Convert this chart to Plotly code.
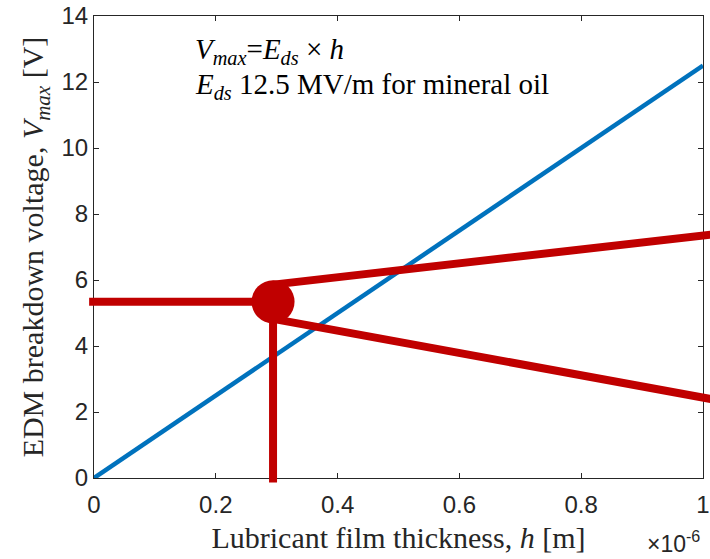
import plotly.graph_objects as go

# Breakdown line V_max = E_ds * h for mineral oil (E_ds = 12.5 MV/m)
h_line = [0.0, 1.0e-6]          # film thickness [m]
v_line = [0.0, 12.5]            # breakdown voltage [V]

# Operating point and the two diverging rays drawn from it
h_op = [0.294e-6]
v_op = [5.34]
ray_h = [0.294e-6, 1.02e-6]
ray_up_v = [5.86, 7.39]
ray_down_v = [4.82, 2.37]
# guide lines back to the axes
guide_h_start = -0.008e-6
guide_v_start = -0.14

x_ticks = [0, 0.2e-6, 0.4e-6, 0.6e-6, 0.8e-6, 1.0e-6]
x_tick_text = ["0", "0.2", "0.4", "0.6", "0.8", "1"]
y_ticks = [0, 2, 4, 6, 8, 10, 12, 14]

X_RANGE = [0, 1.0e-6]
Y_RANGE = [0, 14]

BLUE = "#0072BD"
RED = "#C00000"
AXC = "#262626"
SANS = "Liberation Sans, Arial, sans-serif"
SERIF = "Liberation Serif, Times New Roman, serif"


def px(h):
    return (h - X_RANGE[0]) / (X_RANGE[1] - X_RANGE[0])


def py(v):
    return (v - Y_RANGE[0]) / (Y_RANGE[1] - Y_RANGE[0])


fig = go.Figure()
fig.add_trace(go.Scatter(x=h_line, y=v_line, mode="lines",
                         line=dict(color=BLUE, width=4.5), showlegend=False))
fig.add_trace(go.Scatter(x=h_op, y=v_op, mode="markers", cliponaxis=False,
                         marker=dict(color=RED, size=43, line=dict(width=0)),
                         showlegend=False))

red_line = dict(color=RED, width=8)
segments = [
    (guide_h_start, v_op[0], h_op[0], v_op[0]),
    (h_op[0], guide_v_start, h_op[0], v_op[0]),
    (ray_h[0], ray_up_v[0], ray_h[1], ray_up_v[1]),
    (ray_h[0], ray_down_v[0], ray_h[1], ray_down_v[1]),
]
for x0, y0, x1, y1 in segments:
    fig.add_shape(type="line", xref="paper", yref="paper",
                  x0=px(x0), y0=py(y0), x1=px(x1), y1=py(y1),
                  line=red_line, layer="above")

fig.add_annotation(xref="paper", yref="paper", x=0.163, y=0.925,
                   xanchor="left", yanchor="middle", showarrow=False,
                   text="<i>V</i><sub><i>max</i></sub>=<i>E</i><sub><i>ds</i></sub> × <i>h</i>",
                   font=dict(family=SERIF, size=29, color="black"))
fig.add_annotation(xref="paper", yref="paper", x=0.163, y=0.848,
                   xanchor="left", yanchor="middle", showarrow=False,
                   text="<i>E</i><sub><i>ds</i></sub> 12.5 MV/m for mineral oil",
                   font=dict(family=SERIF, size=29, color="black"))
fig.add_annotation(xref="paper", yref="paper", x=0.998, y=-0.139,
                   xanchor="right", yanchor="middle", showarrow=False,
                   text="×10<sup>-6</sup>",
                   font=dict(family=SANS, size=23, color=AXC))

axis_common = dict(showline=True, linecolor=AXC, linewidth=1, mirror="ticks",
                   ticks="inside", ticklen=5, tickcolor=AXC, showgrid=False,
                   zeroline=False, automargin=False,
                   tickfont=dict(family=SANS, size=24, color=AXC))

fig.update_layout(
    width=710, height=559,
    margin=dict(l=94, r=7, t=16, b=81),
    paper_bgcolor="white", plot_bgcolor="white",
    xaxis=dict(range=X_RANGE, tickvals=x_ticks, ticktext=x_tick_text,
               ticklabelstandoff=5,
               title=dict(text="Lubricant film thickness, <i>h</i> [m]",
                          font=dict(family=SERIF, size=30, color=AXC), standoff=10),
               **axis_common),
    yaxis=dict(range=Y_RANGE, tickvals=y_ticks,
               title=dict(text="EDM breakdown voltage, <i>V</i><sub><i>max</i></sub> [V]",
                          font=dict(family=SERIF, size=30, color=AXC), standoff=8),
               **axis_common),
)

fig.write_html("out.html")
